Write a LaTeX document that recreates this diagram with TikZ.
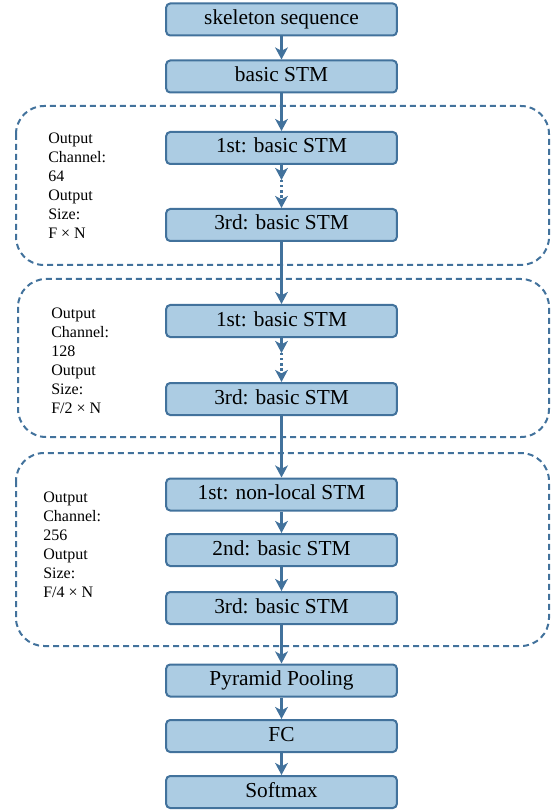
\documentclass[tikz,border=0pt]{standalone}
\usepackage{fontspec}
\setmainfont{Liberation Serif}
\usetikzlibrary{positioning}
\usetikzlibrary{arrows.meta}
\definecolor{box colour}{RGB}{172,204,227}
\definecolor{line colour}{RGB}{66,114,156}
\tikzset{
    % Arrow shape used by every connector
    >={Stealth[length=9pt, width=9.5pt, inset=2.5pt]},
%
    % Blocks of the network
    box/.style={
        draw=line colour, fill=box colour, line width=1.5pt,
        rounded corners=3pt, minimum width=173pt, minimum height=24pt,
        inner sep=0pt, text height=11pt, text depth=3.5pt,
        font=\fontsize{16}{19}\selectfont},
    % Connectors
    flow/.style={draw=line colour, line width=1.8pt, ->},
    % Dashed frame round a stage
    stage/.style={
        draw=line colour, line width=1.5pt, rounded corners=21pt,
        dash pattern=on 4.5pt off 3pt},
    % Side notes of a stage
    small label/.style={
        anchor=west, align=left, inner sep=0pt,
        font=\fontsize{12}{14.25}\selectfont},
}

\begin{document}
\begin{tikzpicture}[
    x=0.75pt, y=-0.75pt]

\useasboundingbox (0,0) rectangle (551,812);

% stages
\draw [stage] (16,106) rectangle (549,265);
\draw [stage] (18,279) rectangle (549,437);
\draw [stage] (16,453) rectangle (549,646);

\path
    (281.5,19.5) node [box] (skeleton) {skeleton sequence}
    ++(0,57) node [box] (basic) {basic STM}
    ++(0,71.5) node [box] (g1 first) {1st: basic STM}
    ++(0,77) node [box] (g1 third) {3rd: basic STM}
    ++(0,96) node [box] (g2 first) {1st: basic STM}
    ++(0,78) node [box] (g2 third) {3rd: basic STM}
    ++(0,95.5) node [box] (g3 first) {1st: non-local STM}
    ++(0,55.5) node [box] (g3 second) {2nd: basic STM}
    ++(0,58) node [box] (g3 third) {3rd: basic STM}
    ++(0,72.5) node [box] (pooling) {Pyramid Pooling}
    ++(0,55.5) node [box] (fc) {FC}
    ++(0,56) node [box] (softmax) {Softmax};

\node [small label] (g1 note) at (48,185.5)
    {Output\\Channel:\\64\\Output\\Size:\\F × N};
\node [small label] (g2 note) at (51,360.5)
    {Output\\Channel:\\128\\Output\\Size:\\F/2 × N};
\node [small label] (g3 note) at (43,544.5)
    {Output\\Channel:\\256\\Output\\Size:\\F/4 × N};

\draw [flow] (skeleton) -- (basic);
\draw [flow] (basic) -- (g1 first);
\draw [flow] (g1 first.south) -- ++(0,15) coordinate (g1 gap);
\draw [flow, dotted] (g1 gap) -- (g1 third.north);
\draw [flow] (g1 third) -- (g2 first);
\draw [flow] (g2 first.south) -- ++(0,15) coordinate (g2 gap);
\draw [flow, dotted] (g2 gap) -- (g2 third.north);
\draw [flow] (g2 third) -- (g3 first);
\draw [flow] (g3 first) -- (g3 second);
\draw [flow] (g3 second) -- (g3 third);
\draw [flow] (g3 third) -- (pooling);
\draw [flow] (pooling) -- (fc);
\draw [flow] (fc) -- (softmax);

\end{tikzpicture}
\end{document}
